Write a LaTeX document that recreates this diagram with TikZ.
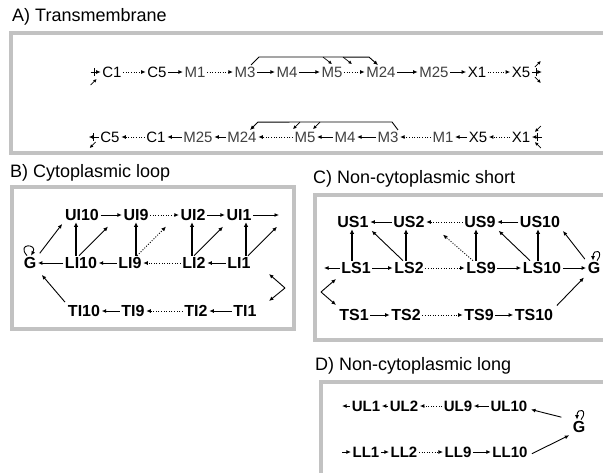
\documentclass[tikz,border=0pt]{standalone}
\usepackage{fontspec}
\setmainfont{Liberation Sans}
\usetikzlibrary{arrows.meta,calc}
\begin{document}
\begin{tikzpicture}[x=1pt,y=-1pt,
  lab/.style={inner sep=1.5pt, font=\fontsize{15}{15}\selectfont},
  mlab/.style={lab, text=black!75},
  labb/.style={inner sep=1.5pt, font=\fontsize{16}{16}\selectfont\bfseries},
  labd/.style={inner sep=1.5pt, font=\fontsize{15}{15}\selectfont\bfseries},
  ttl/.style={anchor=west, inner sep=0pt, font=\fontsize{18}{18}\selectfont},
  panel/.style={draw=black!24, line width=3.5pt},
  ar/.style={-{Latex[length=4.5pt,width=4pt]}, line width=0.9pt},
  sar/.style={-{Latex[length=3.5pt,width=3.5pt]}, line width=0.7pt},
  dar/.style={ar, dash pattern=on 1pt off 1.6pt},
  thk/.style={-{Latex[length=4.5pt,width=4.5pt]}, line width=1.7pt},
  tick/.style={line width=0.8pt},
]
\clip (0,0) rectangle (603,472);
\fill[white] (0,0) rectangle (603,472);

% ---------------- A ----------------
\node[ttl] (ta) at (12,17) {A) Transmembrane};
\draw[panel] (11,33) rectangle (640,153);
\foreach \n/\t/\x/\s in {a1c1/C1/112/lab,a1c5/C5/157/lab,a1m1/M1/195/mlab,a1m3/M3/245/mlab,a1m4/M4/287/mlab,a1m5/M5/332/mlab,a1m24/M24/381/mlab,a1m25/M25/434/mlab,a1x1/X1/477/lab,a1x5/X5/521/lab}
  \node[\s] (\n) at (\x,72) {\t};
\foreach \n/\t/\x/\s in {a2c5/C5/110/lab,a2c1/C1/156/lab,a2m25/M25/198/mlab,a2m24/M24/242/mlab,a2m5/M5/305/mlab,a2m4/M4/345/mlab,a2m3/M3/388/mlab,a2m1/M1/443/mlab,a2x5/X5/478/lab,a2x1/X1/521/lab}
  \node[\s] (\n) at (\x,137) {\t};
% row 1
\draw[dar] (a1c1) -- (a1c5);
\draw[ar] (a1c5) -- (a1m1);
\draw[dar] (a1m1) -- (a1m3);
\draw[ar] (a1m3) -- (a1m4);
\draw[ar] (a1m4) -- (a1m5);
\draw[dar] (a1m5) -- (a1m24);
\draw[ar] (a1m24) -- (a1m25);
\draw[ar] (a1m25) -- (a1x1);
\draw[dar] (a1x1) -- (a1x5);
\draw[ar] ([xshift=6pt]a1m3.north) -- ++(8,-8) -- ([xshift=-12pt,yshift=8pt]a1m24.north) -- ([xshift=-3pt]a1m24.north);
\draw[sar] ([xshift=-9pt,yshift=8pt]a1m5.north) -- ([xshift=0pt,yshift=1pt]a1m5.north);
\draw[sar] ([xshift=11pt,yshift=8pt]a1m5.north) -- ([xshift=20pt,yshift=1pt]a1m5.north);
\draw[ar] ([xshift=-10pt]a1c1.west) -- (a1c1.west);
\draw[tick] ([xshift=-6pt,yshift=4pt]a1c1.west) -- ++(0,8);
\draw[sar] ([xshift=-10pt,yshift=-13pt]a1c1.west) -- ++(6,-6);
\draw[ar] (a1x5.east) -- ++(10,0);
\draw[tick] ([xshift=5pt,yshift=4pt]a1x5.east) -- ++(0,8);
\draw[sar] ([xshift=3pt,yshift=5pt]a1x5.east) -- ++(6,-6);
\draw[sar] ([xshift=3pt,yshift=-5pt]a1x5.east) -- ++(6,6);
% row 2
\draw[dar] (a2c1) -- (a2c5);
\draw[ar] (a2m25) -- (a2c1);
\draw[ar] (a2m24) -- (a2m25);
\draw[dar] (a2m5) -- (a2m24);
\draw[ar] (a2m4) -- (a2m5);
\draw[ar] (a2m3) -- (a2m4);
\draw[dar] (a2m1) -- (a2m3);
\draw[ar] (a2x5) -- (a2m1);
\draw[dar] (a2x1) -- (a2x5);
\draw[ar] ([xshift=10pt]a2m3.north) -- ++(-6,-8) -- ([xshift=16pt,yshift=8pt]a2m24.north) -- ([xshift=8pt]a2m24.north);
\draw[sar] ([xshift=-5pt,yshift=8pt]a2m5.north) -- ([xshift=-12pt,yshift=1pt]a2m5.north);
\draw[sar] ([xshift=15pt,yshift=8pt]a2m5.north) -- ([xshift=8pt,yshift=1pt]a2m5.north);
\draw[ar] (a2c5.west) -- ++(-10,0);
\draw[tick] ([xshift=-5pt,yshift=4pt]a2c5.west) -- ++(0,8);
\draw[sar] ([xshift=-3pt,yshift=-5pt]a2c5.west) -- ++(-6,6);
\draw[ar] ([xshift=10pt]a2x1.east) -- (a2x1.east);
\draw[tick] ([xshift=6pt,yshift=4pt]a2x1.east) -- ++(0,8);
\draw[sar] ([xshift=9pt,yshift=11pt]a2x1.east) -- ++(-6,6);
\draw[sar] ([xshift=9pt,yshift=-11pt]a2x1.east) -- ++(-6,-6);

% ---------------- B ----------------
\node[ttl] (tb) at (10,173) {B) Cytoplasmic loop};
\draw[panel] (12,187) rectangle (294,329);
\foreach \n/\t/\x in {ui10/UI10/82,ui9/UI9/136,ui2/UI2/193,ui1/UI1/239}
  \node[labb] (\n) at (\x,215) {\t};
\foreach \n/\t/\x in {bg/G/30,li10/LI10/81,li9/LI9/130,li2/LI2/194,li1/LI1/239}
  \node[labb] (\n) at (\x,263) {\t};
\foreach \n/\t/\x in {ti10/TI10/84,ti9/TI9/133,ti2/TI2/196,ti1/TI1/245}
  \node[labb] (\n) at (\x,311) {\t};
\coordinate (bout) at (279,215);
\coordinate (bin) at (285,288);
\draw[ar] (ui10) -- (ui9);
\draw[dar] (ui9) -- (ui2);
\draw[ar] (ui2) -- (ui1);
\draw[ar] (ui1) -- (bout);
\draw[ar] (li10) -- (bg);
\draw[ar] (li9) -- (li10);
\draw[dar] (li2) -- (li9);
\draw[ar] (li1) -- (li2);
\draw[ar] (ti9) -- (ti10);
\draw[dar] (ti2) -- (ti9);
\draw[ar] (ti1) -- (ti2);
\draw[ar, shorten <=2pt, shorten >=6pt] (ti10.north west) -- (bg.south east);
\draw[ar, shorten <=3pt, shorten >=2pt] (bg.north east) -- (ui10.south west);
\draw[ar] ([xshift=-3pt]bg.north) .. controls +(-11,-13) and +(7,-12) .. ([xshift=1pt]bg.north);
\draw[ar] (bin) -- ++(-16,-14);
\draw[ar] (bin) -- ++(-16,13);
% verticals
\draw[thk] ([xshift=-5pt]li10.north) -- ([xshift=-5pt]li10.north |- ui10.south);
\draw[thk] ([xshift=6pt]li9.north) -- ([xshift=6pt]li9.north |- ui9.south);
\draw[thk] ([xshift=-2pt]li2.north) -- ([xshift=-2pt]li2.north |- ui2.south);
\draw[thk] ([xshift=7pt]li1.north) -- ([xshift=7pt]li1.north |- ui1.south);
% diagonals
\draw[ar] ([xshift=-2pt]li10.north) -- ++(29,-29);
\draw[dar] ([xshift=7pt]li9.north) -- ++(29,-29);
\draw[ar] ([xshift=0pt]li2.north) -- ++(29,-29);
\draw[ar] ([xshift=9pt]li1.north) -- ++(29,-29);

% ---------------- C ----------------
\node[ttl] (tc) at (313,179) {C) Non-cytoplasmic short};
\draw[panel] (315,195) rectangle (640,340);
\foreach \n/\t/\x in {us1/US1/353,us2/US2/409,us9/US9/480,us10/US10/540}
  \node[labb] (\n) at (\x,222) {\t};
\foreach \n/\t/\x in {ls1/LS1/356,ls2/LS2/409,ls9/LS9/481,ls10/LS10/542,cg/G/594}
  \node[labb] (\n) at (\x,268) {\t};
\foreach \n/\t/\x in {ts1/TS1/354,ts2/TS2/406,ts9/TS9/479,ts10/TS10/534}
  \node[labb] (\n) at (\x,315) {\t};
\coordinate (cout) at (324,268);
\coordinate (cin) at (321,292);
\draw[ar] (us2) -- (us1);
\draw[dar] (us9) -- (us2);
\draw[ar] (us10) -- (us9);
\draw[ar] (ls1) -- (cout);
\draw[ar] (ls1) -- (ls2);
\draw[dar] (ls2) -- (ls9);
\draw[ar] (ls9) -- (ls10);
\draw[ar] (ls10) -- (cg);
\draw[ar] (ts1) -- (ts2);
\draw[dar] (ts2) -- (ts9);
\draw[ar] (ts9) -- (ts10);
\draw[ar, shorten <=3pt, shorten >=3pt] (ts10.north east) -- (cg.south west);
\draw[ar] (cin) -- ++(15,-13);
\draw[ar] (cin) -- ++(15,13);
\draw[ar] ([xshift=3pt]cg.north) .. controls +(8,-10) and +(0,-13) .. ([xshift=-1pt]cg.north);
\draw[thk] ([xshift=-4pt]ls1.north) -- ([xshift=-4pt]ls1.north |- us1.south);
\draw[thk] ([xshift=-3pt]ls2.north) -- ([xshift=-3pt]ls2.north |- us2.south);
\draw[thk] ([xshift=-5pt]ls9.north) -- ([xshift=-5pt]ls9.north |- us9.south);
\draw[thk] ([xshift=-4pt]ls10.north) -- ([xshift=-4pt]ls10.north |- us10.south);
\draw[ar, shorten >=2pt] ([xshift=-6pt]ls2.north) -- (us1.south east);
\draw[dar] ([xshift=-8pt]ls9.north) -- ++(-30,-26);
\draw[ar, shorten >=2pt] ([xshift=-12pt]ls10.north) -- (us9.south east);
\draw[ar, shorten <=2pt, shorten >=2pt] (cg.north west) -- (us10.south east);

% ---------------- D ----------------
\node[ttl] (td) at (315,366) {D) Non-cytoplasmic long};
\draw[panel] (321,382) rectangle (640,500);
\foreach \n/\t/\x in {ul1/UL1/366,ul2/UL2/404,ul9/UL9/458,ul10/UL10/509}
  \node[labd] (\n) at (\x,406) {\t};
\foreach \n/\t/\x in {ll1/LL1/366,ll2/LL2/404,ll9/LL9/458,ll10/LL10/510}
  \node[labd] (\n) at (\x,452) {\t};
\node[labb] (dg) at (579,427) {G};
\coordinate (dout) at (342,406);
\coordinate (din) at (342,452);
\draw[ar] (ul1) -- (dout);
\draw[ar] (ul2) -- (ul1);
\draw[dar] (ul9) -- (ul2);
\draw[ar] (ul10) -- (ul9);
\draw[ar] (din) -- (ll1);
\draw[ar] (ll1) -- (ll2);
\draw[dar] (ll2) -- (ll9);
\draw[ar] (ll9) -- (ll10);
\draw[ar, shorten <=10pt, shorten >=2pt] (dg.north west) -- ([yshift=-3pt]ul10.east);
\draw[ar, shorten <=3pt, shorten >=2pt] ([yshift=-3pt]ll10.east) -- (dg.south west);
\draw[ar] ([xshift=2pt]dg.north) .. controls +(8,-10) and +(0,-13) .. ([xshift=-2pt]dg.north);
\end{tikzpicture}
\end{document}
